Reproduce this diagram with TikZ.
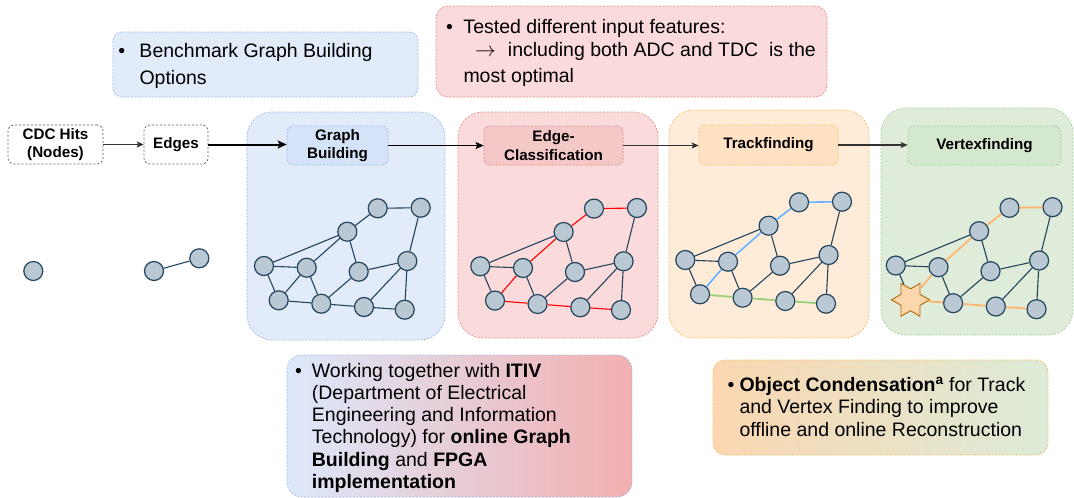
\documentclass[tikz,border=0pt]{standalone}
\usepackage{fontspec}
\setmainfont{Liberation Sans}
\usetikzlibrary{shapes.geometric,arrows.meta}
\definecolor{gbfill}{RGB}{225,235,250}
\definecolor{gblab}{RGB}{212,227,248}
\definecolor{gbline}{RGB}{160,185,225}
\definecolor{ecfill}{RGB}{250,218,218}
\definecolor{eclab}{RGB}{245,200,200}
\definecolor{ecline}{RGB}{228,140,140}
\definecolor{tffill}{RGB}{254,236,216}
\definecolor{tflab}{RGB}{255,225,196}
\definecolor{tfline}{RGB}{240,190,100}
\definecolor{vffill}{RGB}{224,236,218}
\definecolor{vflab}{RGB}{212,232,208}
\definecolor{vfline}{RGB}{165,205,155}
\definecolor{nodefill}{RGB}{186,200,211}
\definecolor{nodeline}{RGB}{35,68,93}
\definecolor{redpath}{RGB}{255,0,0}
\definecolor{bluepath}{RGB}{102,178,255}
\definecolor{greenpath}{RGB}{151,208,119}
\definecolor{orangepath}{RGB}{255,181,112}
\definecolor{starfill}{RGB}{250,215,172}
\definecolor{starline}{RGB}{180,101,4}
\definecolor{itivL}{RGB}{220,232,251}
\definecolor{itivR}{RGB}{242,176,176}
\definecolor{objL}{RGB}{251,214,176}
\definecolor{objR}{RGB}{220,235,216}
\definecolor{arrowgray}{RGB}{50,50,50}
\tikzset{
  panel/.style={rectangle, rounded corners=25pt, line width=0.7pt, dash pattern=on 2pt off 1.5pt, inner sep=0pt},
  lblbox/.style={rectangle, rounded corners=6pt, line width=0.7pt, dash pattern=on 2pt off 1.5pt, align=center, inner sep=0pt,
    font=\bfseries\fontsize{15.2}{18.5}\selectfont},
  whitebox/.style={lblbox, draw=black!65, fill=white, dash pattern=on 2pt off 2pt},
  infobox/.style={rectangle, line width=0.7pt, dash pattern=on 2pt off 1.5pt, inner sep=0pt},
  infotext/.style={anchor=base west, inner sep=0pt, font=\fontsize{19.5}{22.3}\selectfont},
  gnode/.style={circle, fill=nodefill, draw=nodeline, line width=1.2pt, minimum size=19pt, inner sep=0pt},
  starnode/.style={star, star points=6, star point ratio=1.73, shape border rotate=30, fill=starfill, draw=starline,
    line width=0.9pt, minimum size=38pt, inner sep=0pt},
  gedge/.style={draw=nodeline, line width=1.1pt},
  redge/.style={draw=redpath, line width=1.1pt},
  bedge/.style={draw=bluepath, line width=1.6pt},
  grnedge/.style={draw=greenpath, line width=1.8pt},
  oedge/.style={draw=orangepath, line width=1.8pt},
  flowarrow/.style={draw=arrowgray, line width=1pt, -{Stealth[length=7pt,width=6pt,inset=1.5pt]}},
}
\newcommand\netgraph[4]{%
  \begin{scope}[shift={(#2,#3)}]
    \node[gnode] (#1A) at (377.7,208.3) {};
    \node[gnode] (#1B) at (420.7,207.7) {};
    \node[gnode] (#1C) at (347.3,231.7) {};
    \node[gnode] (#1D) at (264,266) {};
    \node[gnode] (#1E) at (306.7,267.7) {};
    \node[gnode] (#1F) at (358.7,271.7) {};
    \node[gnode] (#1G) at (407.3,261) {};
    \node[#4] (#1H) at (278.7,300.3) {};
    \node[gnode] (#1I) at (321.3,303.7) {};
    \node[gnode] (#1J) at (364,307) {};
    \node[gnode] (#1K) at (404.7,309.7) {};
  \end{scope}}
\newcommand\netedges[3]{%
  \draw[gedge] (#1C) -- (#1D);
  \draw[gedge] (#1C) -- (#1F);
  \draw[gedge] (#1B) -- (#1G);
  \draw[gedge] (#1D) -- (#1E);
  \draw[gedge] (#1D) -- (#1H);
  \draw[gedge] (#1E) -- (#1I);
  \draw[gedge] (#1F) -- (#1G);
  \draw[gedge] (#1F) -- (#1I);
  \draw[gedge] (#1J) -- (#1G);
  \draw[gedge] (#1G) -- (#1K);
  \draw[#2] (#1A) -- (#1B);
  \draw[#2] (#1A) -- (#1C);
  \draw[#2] (#1C) -- (#1E);
  \draw[#2] (#1E) -- (#1H);
  \draw[#3] (#1H) -- (#1I);
  \draw[#3] (#1I) -- (#1J);
  \draw[#3] (#1J) -- (#1K);}
\begin{document}
\begin{tikzpicture}[x=1pt,y=-1pt]
\useasboundingbox (0,0) rectangle (1074,498);
% stage panels
\node[panel, fill=gbfill, draw=gbline, minimum width=198pt, minimum height=228pt] (gbpanel) at (346,226) {};
\node[panel, fill=ecfill, draw=ecline, minimum width=200pt, minimum height=226pt] (ecpanel) at (558,225) {};
\node[panel, fill=tffill, draw=tfline, minimum width=200pt, minimum height=228pt] (tfpanel) at (769,224) {};
\node[panel, fill=vffill, draw=vfline, minimum width=192pt, minimum height=227pt] (vfpanel) at (977,221.5) {};
% stage labels
\node[whitebox, minimum width=95pt, minimum height=39pt] (cdc) at (55.5,144.5) {CDC Hits\\(Nodes)};
\node[whitebox, minimum width=64pt, minimum height=39pt] (edg) at (176,144.5) {Edges};
\node[lblbox, fill=gblab, draw=gbline, minimum width=101pt, minimum height=39pt] (gb) at (337.5,145.5) {Graph\\Building};
\node[lblbox, fill=eclab, draw=ecline, minimum width=139pt, minimum height=39pt] (ec) at (553.5,145.5) {Edge-\\Classification};
\node[lblbox, fill=tflab, draw=tfline, minimum width=139pt, minimum height=40pt] (tf) at (768.5,145) {Trackfinding};
\node[lblbox, fill=vflab, draw=vfline, minimum width=153pt, minimum height=39pt] (vf) at (984.5,145.5) {Vertexfinding};
% flow arrows
\draw[flowarrow] (cdc.east) -- (edg.west);
\draw[draw=black, line width=2pt, -{Stealth[length=9pt,width=8pt,inset=2pt]}] (edg.east) -- (edg.east -| gb.west);
\draw[draw=black, line width=1.5pt, -{Stealth[length=8pt,width=7pt,inset=1.5pt]}] (gb.east) -- (ec.west);
\draw[flowarrow, line width=1.1pt] (ec.east) -- (ec.east -| tf.west);
\draw[flowarrow, line width=1.1pt] (tf.east) -- (tf.east -| vf.west);
% left hits
\node[gnode] (hit) at (33.3,271) {};
\node[gnode] (e1) at (154,271) {};
\node[gnode] (e2) at (199.3,258.3) {};
\draw[gedge] (e1) -- (e2);
% graphs
\netgraph{g}{0}{0}{gnode}
\netedges{g}{gedge}{gedge}
\netgraph{c}{216.3}{0.3}{gnode}
\netedges{c}{redge}{redge}
\netgraph{t}{421.3}{-6}{gnode}
\netedges{t}{bedge}{grnedge}
\netgraph{v}{631.8}{-0.5}{starnode}
\netedges{v}{oedge}{oedge}
% info boxes
\node[infobox, rounded corners=9pt, fill=gbfill, draw=gbline, minimum width=305pt, minimum height=65pt] (benchbox) at (265.5,64.5) {};
\node[infotext] (benchtext) at (139.3,57.7) {\vtop{\baselineskip=26.6pt
  \hbox{\llap{•\hspace{14.2pt}}Benchmark Graph Building}
  \hbox{Options}}};
\node[infobox, rounded corners=12pt, fill=ecfill, draw=ecline, minimum width=391pt, minimum height=91pt] (featbox) at (631.5,51.5) {};
\node[infotext] (feattext) at (463.3,33.3) {\vtop{\baselineskip=23pt
  \hbox{\llap{•\hspace{10.6pt}}Tested different input features:}
  \hbox{\hspace{11.7pt}$\rightarrow$\hspace{12pt}including both ADC and TDC\ \ is the}
  \baselineskip=26pt
  \hbox{most optimal}}};
\node[infobox, rounded corners=15pt, left color=itivL, right color=itivR, draw=gbline, minimum width=345pt, minimum height=142pt] (itivbox) at (459.5,426) {};
\node[infotext] (itivtext) at (311.7,377.3) {\vtop{\baselineskip=22.2pt
  \hbox{\llap{•\hspace{10pt}}Working together with \textbf{ITIV}}
  \hbox{(Department of Electrical}
  \hbox{Engineering and Information}
  \hbox{Technology) for \textbf{online Graph}}
  \hbox{\textbf{Building} and \textbf{FPGA}}
  \hbox{\textbf{implementation}}}};
\node[infobox, rounded corners=12pt, left color=objL, right color=objR, draw=tfline, minimum width=335pt, minimum height=95pt] (objbox) at (880.5,407.5) {};
\node[infotext] (objtext) at (739.3,391.7) {\vtop{\baselineskip=22.2pt
  \hbox{\llap{•\hspace{5pt}}\textbf{Object Condensation\textsuperscript{a}} for Track}
  \hbox{and Vertex Finding to improve}
  \hbox{offline and online Reconstruction}}};
\end{tikzpicture}
\end{document}
